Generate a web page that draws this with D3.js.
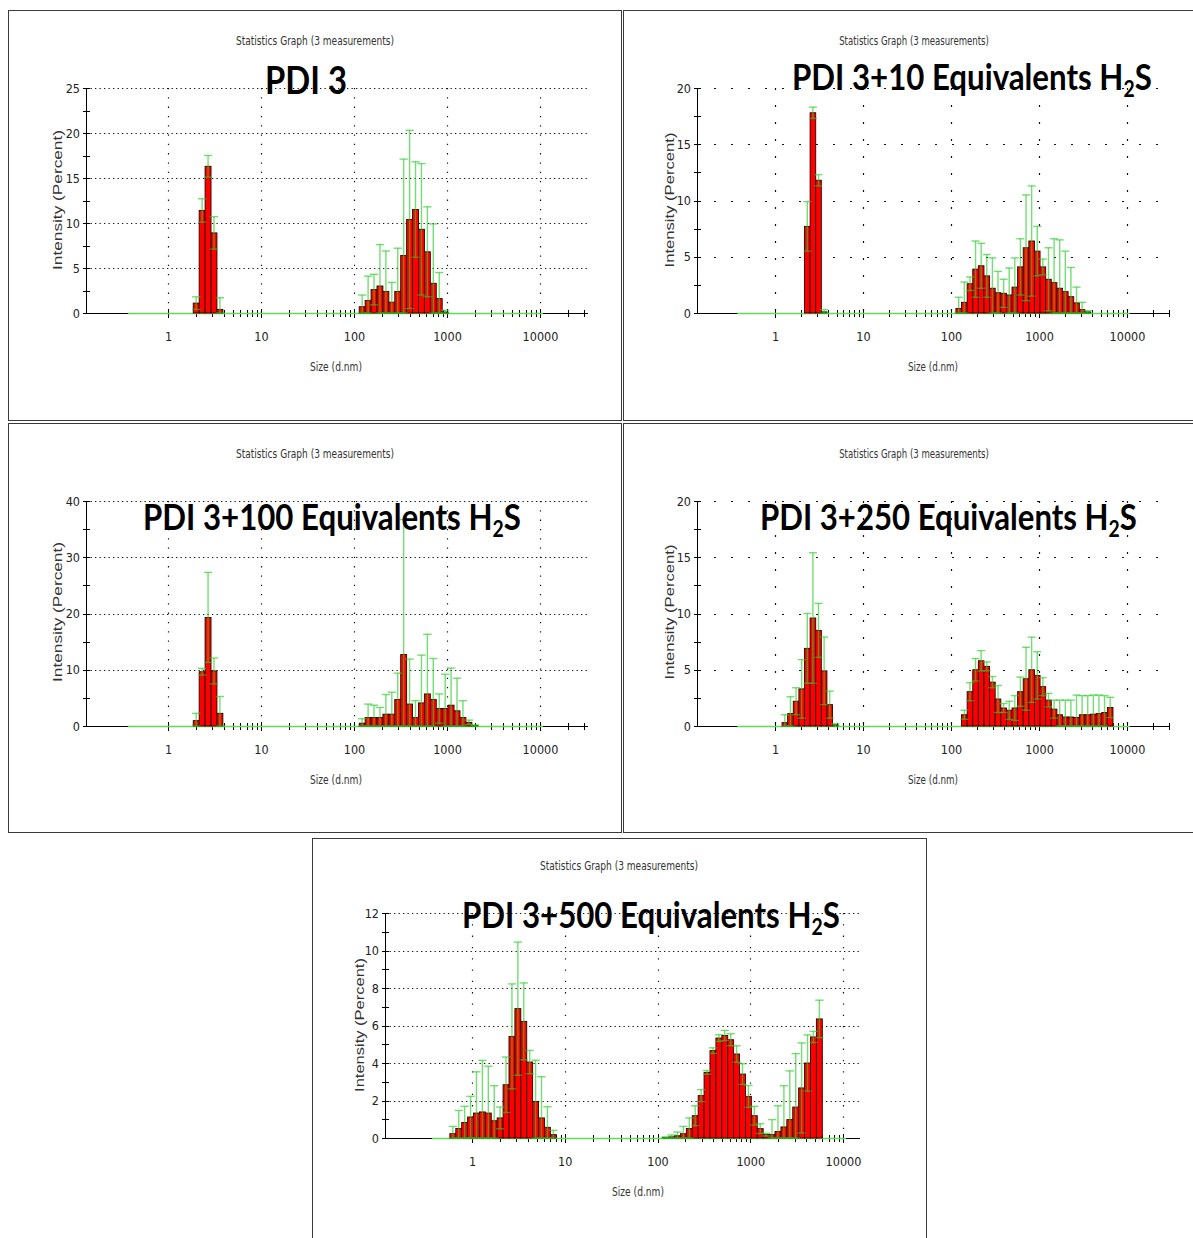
<!DOCTYPE html>
<html><head><meta charset="utf-8">
<script src="https://cdn.jsdelivr.net/npm/d3@7/dist/d3.min.js"></script>
<style>body{margin:0;background:#fff} svg{display:block}</style>
</head><body>
<svg id="chart" width="1193" height="1238"></svg>
<script>
// ---------------- DATA ----------------
// Zetasizer size classes (d.nm)
const sizeClasses = [0.4, 0.4632, 0.5365, 0.6213, 0.7195, 0.8332, 0.9649, 1.117, 1.294, 1.499,
  1.736, 2.01, 2.328, 2.696, 3.122, 3.615, 4.187, 4.849, 5.615, 6.503,
  7.531, 8.721, 10.1, 11.7, 13.54, 15.69, 18.17, 21.04, 24.36, 28.21,
  32.67, 37.84, 43.82, 50.75, 58.77, 68.06, 78.82, 91.28, 105.7, 122.4,
  141.8, 164.2, 190.1, 220.2, 255.0, 295.3, 342.0, 396.1, 458.7, 531.2,
  615.1, 712.4, 825.0, 955.4, 1106, 1281, 1484, 1718, 1990, 2305,
  2669, 3091, 3580, 4145, 4801, 5560, 6439, 7456, 8635, 10000];

const xTickLabels = [1, 10, 100, 1000, 10000];
const titleText = "Statistics Graph (3 measurements)";
const yAxisLabel = "Intensity (Percent)";
const xAxisLabel = "Size (d.nm)";

// Panel 1: PDI 3
const p1Label = ["PDI 3"];
const p1Sizes = [2.01, 2.328, 2.696, 3.122, 3.615, 122.4, 141.8, 164.2, 190.1, 220.2, 255.0, 295.3, 342.0, 396.1, 458.7, 531.2, 615.1, 712.4, 825.0, 955.4];
const p1Mean  = [1.1, 11.4, 16.3, 8.9, 0.4, 0.7, 1.4, 2.6, 3.0, 2.4, 1.2, 2.4, 6.4, 10.4, 11.5, 9.3, 6.8, 3.3, 1.6, 0.1];
const p1Sd    = [0.7, 1.3, 1.2, 1.8, 1.3, 1.3, 2.7, 1.7, 4.6, 4.5, 2.2, 4.8, 10.7, 9.9, 5.3, 7.3, 5.0, 6.6, 2.9, 0.2];

// Panel 2: PDI 3 + 10 equivalents H2S
const p2Label = ["PDI 3+10 Equivalents H", "2", "S"];
const p2Sizes = [2.328, 2.696, 3.122, 3.615, 122.4, 141.8, 164.2, 190.1, 220.2, 255.0, 295.3, 342.0, 396.1, 458.7, 531.2, 615.1, 712.4, 825.0, 955.4, 1106, 1281, 1484, 1718, 1990, 2305, 2669, 3091, 3580];
const p2Mean  = [7.7, 17.8, 11.8, 0.1, 0.4, 0.95, 2.6, 3.9, 4.2, 3.3, 2.2, 1.8, 1.75, 1.6, 2.3, 4.1, 5.8, 6.4, 5.5, 4.1, 3.0, 2.7, 2.2, 1.9, 1.45, 0.9, 0.3, 0.1];
const p2Sd    = [2.2, 0.5, 0.5, 0.2, 1.0, 1.8, 0.6, 2.5, 2.0, 1.9, 2.7, 1.9, 1.25, 2.4, 2.6, 2.5, 4.7, 4.9, 2.2, 0.7, 2.8, 3.9, 4.3, 3.6, 2.6, 1.4, 0.65, 0.1];

// Panel 3: PDI 3 + 100 equivalents H2S
const p3Label = ["PDI 3+100 Equivalents H", "2", "S"];
const p3Sizes = [2.01, 2.328, 2.696, 3.122, 3.615, 122.4, 141.8, 164.2, 190.1, 220.2, 255.0, 295.3, 342.0, 396.1, 458.7, 531.2, 615.1, 712.4, 825.0, 955.4, 1106, 1281, 1484, 1718, 1990];
const p3Mean  = [0.95, 9.65, 19.3, 9.8, 2.25, 0.5, 1.5, 1.5, 1.5, 2.1, 2.1, 4.7, 12.7, 3.9, 1.5, 4.1, 5.7, 4.7, 3.1, 3.1, 3.7, 2.7, 1.5, 0.65, 0.1];
const p3Sd    = [1.3, 0.6, 8.0, 2.3, 3.0, 0.8, 2.4, 2.2, 1.8, 3.5, 3.9, 4.7, 24.0, 8.0, 3.0, 8.5, 10.6, 7.3, 2.6, 6.1, 6.6, 5.8, 3.0, 0.4, 0.1];

// Panel 4: PDI 3 + 250 equivalents H2S
const p4Label = ["PDI 3+250 Equivalents H", "2", "S"];
const p4Sizes = [1.294, 1.499, 1.736, 2.01, 2.328, 2.696, 3.122, 3.615, 4.187, 4.849, 141.8, 164.2, 190.1, 220.2, 255.0, 295.3, 342.0, 396.1, 458.7, 531.2, 615.1, 712.4, 825.0, 955.4, 1106, 1281, 1484, 1718, 1990, 2305, 2669, 3091, 3580, 4145, 4801, 5560, 6439];
const p4Mean  = [0.3, 1.1, 2.2, 3.3, 6.9, 9.6, 8.5, 4.9, 1.9, 0.1, 1.0, 3.05, 5.0, 5.8, 5.3, 3.9, 2.4, 1.6, 1.4, 1.6, 3.05, 4.2, 5.0, 4.5, 3.5, 2.3, 1.5, 1.0, 0.8, 0.8, 0.75, 1.0, 1.0, 1.05, 1.1, 1.2, 1.65];
const p4Sd    = [0.7, 1.5, 1.2, 2.6, 3.1, 5.8, 2.4, 3.0, 1.2, 0.1, 0.4, 0.8, 1.0, 0.9, 0.4, 0.5, 1.2, 0.4, 0.8, 1.1, 1.3, 2.8, 2.9, 2.1, 0.8, 0.6, 0.8, 1.3, 1.5, 1.5, 2.0, 1.7, 1.7, 1.7, 1.65, 1.5, 0.9];

// Panel 5: PDI 3 + 500 equivalents H2S
const p5Label = ["PDI 3+500 Equivalents H", "2", "S"];
const p5Sizes = [0.6213, 0.7195, 0.8332, 0.9649, 1.117, 1.294, 1.499, 1.736, 2.01, 2.328, 2.696, 3.122, 3.615, 4.187, 4.849, 5.615, 6.503, 7.531, 122.4, 141.8, 164.2, 190.1, 220.2, 255.0, 295.3, 342.0, 396.1, 458.7, 531.2, 615.1, 712.4, 825.0, 955.4, 1106, 1281, 1484, 1718, 1990, 2305, 2669, 3091, 3580, 4145, 4801, 5560];
const p5Mean  = [0.23, 0.51, 0.83, 1.12, 1.33, 1.39, 1.33, 0.92, 1.07, 2.84, 5.42, 6.9, 6.22, 4.05, 1.95, 1.07, 0.57, 0.18, 0.03, 0.06, 0.12, 0.23, 0.51, 1.19, 2.26, 3.5, 4.66, 5.33, 5.47, 5.24, 4.48, 3.41, 2.22, 1.19, 0.5, 0.18, 0.18, 0.35, 0.59, 0.98, 1.65, 2.67, 4.0, 5.39, 6.35];
const p5Sd    = [0.39, 0.96, 0.86, 1.1, 2.2, 2.75, 2.5, 1.87, 0.58, 1.48, 2.8, 3.55, 2.05, 0.62, 2.2, 2.2, 1.1, 0.23, 0.03, 0.1, 0.2, 0.39, 0.56, 0.53, 0.32, 0.1, 0.15, 0.18, 0.27, 0.32, 0.44, 0.55, 0.58, 0.5, 0.26, 0.07, 0.8, 1.37, 2.2, 2.6, 2.85, 2.4, 1.5, 0.3, 1.0];

// ---------------- LAYOUT ----------------
const layouts = [
  {box:[8,10,613,410], axisX:86, x1:168, x10k:540, xEnd:588, y0:313, yTop:88, yMax:25, yStep:5,
   hdash:"1.3,3.2", vdash:"1.3,8", title:[315,45,158], label:[265,347,94,38], ylab:[62,200,140], xlab:[336,371,52]},
  {box:[623,10,580,410], axisX:697, x1:775, x10k:1127, xEnd:1170, y0:313, yTop:88, yMax:20, yStep:5,
   hdash:"2,15", vdash:"2,15", title:[914,45,150], label:[792,1152,90,36], ylab:[674,200,135], xlab:[933,371,50]},
  {box:[8,423,613,409], axisX:86, x1:168, x10k:540, xEnd:588, y0:726, yTop:501, yMax:40, yStep:10,
   hdash:"1.3,3.2", vdash:"1.3,8", title:[315,458,158], label:[143,521,530,36], ylab:[62,612,140], xlab:[336,784,52]},
  {box:[623,423,580,409], axisX:697, x1:775, x10k:1127, xEnd:1170, y0:726, yTop:501, yMax:20, yStep:5,
   hdash:"2,15", vdash:"2,15", title:[914,458,150], label:[760,1137,530,36], ylab:[674,612,135], xlab:[933,784,50]},
  {box:[312,838,614,420], axisX:385, x1:472, x10k:843, xEnd:860, y0:1138, yTop:913, yMax:12, yStep:2,
   hdash:"1.3,3.2", vdash:"1.3,10", title:[619,870,158], label:[462,840,928,36], ylab:[364,1025,134], xlab:[638,1196,52]}
];

const panels = [
  {label:p1Label, sizes:p1Sizes, mean:p1Mean, sd:p1Sd},
  {label:p2Label, sizes:p2Sizes, mean:p2Mean, sd:p2Sd},
  {label:p3Label, sizes:p3Sizes, mean:p3Mean, sd:p3Sd},
  {label:p4Label, sizes:p4Sizes, mean:p4Mean, sd:p4Sd},
  {label:p5Label, sizes:p5Sizes, mean:p5Mean, sd:p5Sd}
];

const NARROW = "'Liberation Sans Narrow','Arial Narrow','DejaVu Sans Condensed',sans-serif";
const REG = "'Liberation Sans',Arial,sans-serif";
const svg = d3.select("#chart");

function binEdges(s) {
  const i = sizeClasses.indexOf(s);
  const prev = i > 0 ? sizeClasses[i-1] : s * s / sizeClasses[i+1];
  const next = i < sizeClasses.length - 1 ? sizeClasses[i+1] : s * s / sizeClasses[i-1];
  return [Math.sqrt(prev * s), Math.sqrt(s * next)];
}

function fitText(g, str, cx, base, width, family, size, rotate, color) {
  const grp = g.append("g");
  const t = grp.append("text").attr("text-anchor", "middle").attr("font-family", family)
    .attr("font-size", size).attr("fill", color || "#222").text(str);
  const w = t.node().getComputedTextLength();
  const k = width / w;
  grp.attr("transform", `translate(${cx},${base})${rotate ? " rotate(-90)" : ""} scale(${k},1)`);
}

function bigLabel(g, parts, left, right, base, fs) {
  const grp = g.append("g");
  const t = grp.append("text").attr("font-family", "Lato,'Open Sans',sans-serif")
    .attr("font-weight", 700).attr("font-size", fs).attr("fill", "#000");
  t.append("tspan").text(parts[0]);
  if (parts.length > 1) {
    t.append("tspan").attr("font-size", fs * 0.62).attr("dy", fs * 0.2).text(parts[1]);
    t.append("tspan").attr("font-size", fs).attr("dy", -fs * 0.2).text(parts[2]);
  }
  const bb = t.node().getBBox();
  const k = (right - left) / bb.width;
  grp.attr("transform", `translate(${left - bb.x * k},${base}) scale(${k},1)`);
}

function drawPanel(L, P) {
  const g = svg.append("g");
  g.append("rect").attr("x", L.box[0] + 0.5).attr("y", L.box[1] + 0.5)
    .attr("width", L.box[2]).attr("height", L.box[3])
    .attr("fill", "#fff").attr("stroke", "#3a3a3a").attr("stroke-width", 1);

  const x = d3.scaleLog().domain([1, 10000]).range([L.x1, L.x10k]);
  const y = d3.scaleLinear().domain([0, L.yMax]).range([L.y0, L.yTop]);
  const yMajor = d3.range(0, L.yMax + 1e-6, L.yStep);
  const yMinor = yMajor.slice(0, -1).map(v => v + L.yStep / 2);

  // grids
  g.append("g").selectAll("line").data(yMajor.filter(v => v > 0)).join("line")
    .attr("x1", L.axisX).attr("x2", L.xEnd)
    .attr("y1", v => Math.round(y(v)) + 0.5).attr("y2", v => Math.round(y(v)) + 0.5)
    .attr("stroke", "#111").attr("stroke-width", 1.2).attr("stroke-dasharray", L.hdash);
  g.append("g").selectAll("line").data(xTickLabels).join("line")
    .attr("x1", v => Math.round(x(v)) + 0.5).attr("x2", v => Math.round(x(v)) + 0.5)
    .attr("y1", L.yTop).attr("y2", L.y0)
    .attr("stroke", "#111").attr("stroke-width", 1.2).attr("stroke-dasharray", L.vdash);

  // axes lines
  g.append("line").attr("x1", L.axisX).attr("x2", L.xEnd).attr("y1", L.y0 + 0.5).attr("y2", L.y0 + 0.5)
    .attr("stroke", "#000");
  g.append("line").attr("x1", L.axisX + 0.5).attr("x2", L.axisX + 0.5).attr("y1", L.yTop).attr("y2", L.y0)
    .attr("stroke", "#000");

  // y ticks
  g.append("g").selectAll("line").data(yMajor.concat(yMinor)).join("line")
    .attr("x1", L.axisX - 3).attr("x2", L.axisX + 4)
    .attr("y1", v => Math.round(y(v)) + 0.5).attr("y2", v => Math.round(y(v)) + 0.5)
    .attr("stroke", "#000");
  const ya = g.append("g").attr("transform", `translate(${L.axisX},0)`)
    .call(d3.axisLeft(y).tickValues(yMajor).tickSize(0).tickPadding(6).tickFormat(d3.format("d")));
  ya.select(".domain").remove();
  ya.selectAll("text").attr("font-family", NARROW).attr("font-size", 12.5).attr("fill", "#222");

  // x ticks
  const minor = [];
  for (let n = 0; n <= 4; n++) for (let k = 2; k <= 9; k++) {
    const v = k * Math.pow(10, n);
    if (x(v) <= L.xEnd - 1) minor.push(v);
  }
  g.append("g").selectAll("line").data(minor).join("line")
    .attr("x1", v => Math.round(x(v)) + 0.5).attr("x2", v => Math.round(x(v)) + 0.5)
    .attr("y1", L.y0 - 3).attr("y2", L.y0 + 4).attr("stroke", "#000");
  g.append("g").selectAll("line").data(xTickLabels).join("line")
    .attr("x1", v => Math.round(x(v)) + 0.5).attr("x2", v => Math.round(x(v)) + 0.5)
    .attr("y1", L.y0 - 4).attr("y2", L.y0 + 5).attr("stroke", "#000");
  const xa = g.append("g").attr("transform", `translate(0,${L.y0})`)
    .call(d3.axisBottom(x).tickValues(xTickLabels).tickSize(0).tickPadding(19).tickFormat(d3.format("d")));
  xa.select(".domain").remove();
  xa.selectAll("text").attr("font-family", NARROW).attr("font-size", 12.5).attr("fill", "#222");

  // green baseline over class range
  const lo0 = binEdges(sizeClasses[0])[0], hiN = binEdges(sizeClasses[sizeClasses.length - 1])[1];
  g.append("line").attr("x1", x(lo0)).attr("x2", x(hiN)).attr("y1", L.y0 + 0.5).attr("y2", L.y0 + 0.5)
    .attr("stroke", "#5fdc55").attr("stroke-width", 1.6);

  const data = P.sizes.map((s, i) => ({s, m: P.mean[i], sd: P.sd[i], e: binEdges(s)}));

  // bars
  g.append("g").selectAll("rect").data(data).join("rect")
    .attr("x", d => x(d.e[0])).attr("width", d => x(d.e[1]) - x(d.e[0]))
    .attr("y", d => y(d.m)).attr("height", d => L.y0 - y(d.m))
    .attr("fill", "#ff0000").attr("stroke", "#2a0000").attr("stroke-width", 0.9);

  // error bars
  const eg = g.append("g").attr("stroke", "rgba(40,205,40,0.65)").attr("stroke-width", 1.4);
  data.forEach(d => {
    const cx = x(d.s), cw = (x(d.e[1]) - x(d.e[0])) / 2 + 1.2;
    const top = y(d.m + d.sd), bot = y(Math.max(0, d.m - d.sd));
    eg.append("line").attr("x1", cx).attr("x2", cx).attr("y1", top).attr("y2", bot);
    eg.append("line").attr("x1", cx - cw).attr("x2", cx + cw).attr("y1", top).attr("y2", top);
    eg.append("line").attr("x1", cx - cw).attr("x2", cx + cw).attr("y1", bot).attr("y2", bot);
  });

  // texts
  fitText(g, titleText, L.title[0], L.title[1], L.title[2], NARROW, 13, false, "#333");
  fitText(g, yAxisLabel, L.ylab[0], L.ylab[1], L.ylab[2], REG, 12, true, "#333");
  fitText(g, xAxisLabel, L.xlab[0], L.xlab[1], L.xlab[2], NARROW, 13, false, "#333");
  bigLabel(g, P.label, L.label[0], L.label[1], L.label[2], L.label[3]);
}

layouts.forEach((L, i) => drawPanel(L, panels[i]));
</script>
</body></html>
